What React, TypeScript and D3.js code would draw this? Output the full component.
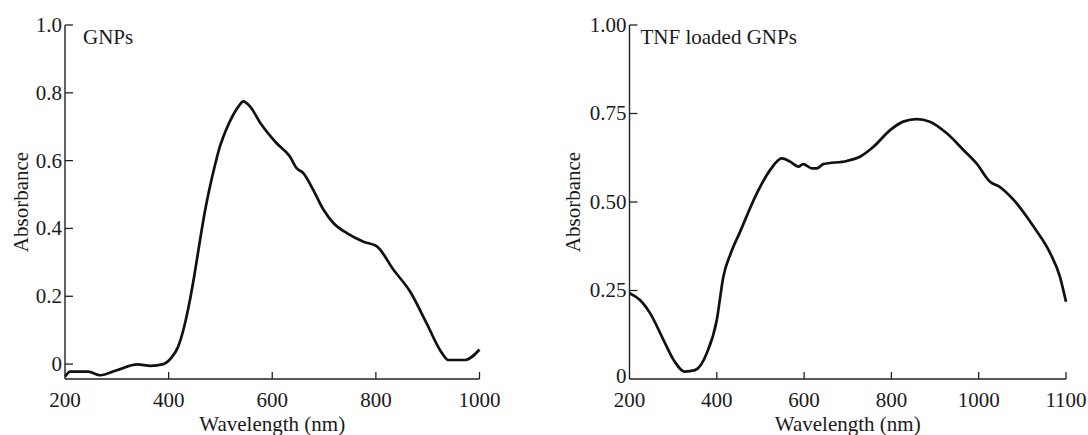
import React from "react";
import * as d3 from "d3";

// ---- Data ----
const gnpWavelength = [200, 210, 245, 268, 300, 340, 365, 390, 405, 418, 430, 440, 450, 460, 470, 480, 490, 499, 505, 515, 525, 535, 544, 557, 577, 608, 634, 647, 660, 679, 699, 718, 744, 776, 802, 834, 866, 898, 924, 940, 972, 1000];
const gnpAbsorbance = [-0.037, -0.022, -0.022, -0.033, -0.018, -0.001, -0.005, 0.0, 0.018, 0.05, 0.11, 0.18, 0.265, 0.36, 0.45, 0.525, 0.59, 0.642, 0.668, 0.705, 0.736, 0.76, 0.775, 0.76, 0.711, 0.652, 0.612, 0.578, 0.563, 0.514, 0.455, 0.416, 0.386, 0.361, 0.347, 0.278, 0.214, 0.12, 0.041, 0.012, 0.012, 0.043];

const tnfWavelength = [200, 224, 247, 278, 301, 327, 350, 377, 400, 415, 432, 453, 492, 522, 549, 568, 587, 598, 618, 629, 644, 698, 728, 759, 797, 827, 858, 888, 927, 965, 995, 1013, 1024, 1040, 1063, 1082, 1093, 1100];
const tnfAbsorbance = [0.242, 0.223, 0.186, 0.11, 0.054, 0.021, 0.025, 0.073, 0.167, 0.289, 0.355, 0.415, 0.525, 0.59, 0.623, 0.614, 0.6, 0.607, 0.595, 0.595, 0.607, 0.616, 0.628, 0.656, 0.703, 0.727, 0.734, 0.727, 0.694, 0.647, 0.609, 0.557, 0.543, 0.506, 0.43, 0.355, 0.289, 0.218];

const leftXTicks = [200, 400, 600, 800, 1000];
const leftYTicks = [0, 0.2, 0.4, 0.6, 0.8, 1.0];
const leftYLabels = ["0", "0.2", "0.4", "0.6", "0.8", "1.0"];
const rightXTicks = [200, 400, 600, 800, 1000, 1100];
const rightYTicks = [0, 0.25, 0.5, 0.75, 1.0];
const rightYLabels = ["0", "0.25", "0.50", "0.75", "1.00"];

const FONT = "'Liberation Serif', 'Times New Roman', serif";
const FS = 21;

type PanelProps = {
  x: d3.ScaleLinear<number, number>;
  y: d3.ScaleLinear<number, number>;
  xs: number[];
  ys: number[];
  xTicks: number[];
  yTicks: number[];
  yLabels: string[];
  title: string;
  titleDx: number;
  yLabelX: number;
};

function Panel({ x, y, xs, ys, xTicks, yTicks, yLabels, title, titleDx, yLabelX }: PanelProps) {
  const [x0, x1] = [x.range()[0], x.range()[x.range().length - 1]];
  const [yb, yt] = y.range();
  const line = d3
    .line<number>()
    .x((_, i) => x(xs[i]))
    .y((d) => y(d))
    .curve(d3.curveMonotoneX);
  const tickLen = 8;
  return (
    <g>
      <path d={line(ys) || ""} fill="none" stroke="#111" strokeWidth={2.7} strokeLinejoin="round" />
      <line x1={x0} x2={x0} y1={yt} y2={yb} stroke="#222" strokeWidth={1.4} />
      <line x1={x0} x2={x1} y1={yb} y2={yb} stroke="#222" strokeWidth={1.4} />
      {yTicks.map((t, i) => {
        const onAxis = Math.abs(y(t) - yb) < 1;
        return (
          <g key={"y" + i}>
            {!onAxis ? (
              <line x1={x0} x2={x0 + tickLen} y1={y(t)} y2={y(t)} stroke="#222" strokeWidth={1.3} />
            ) : null}
            <text
              x={x0 - 3}
              y={onAxis ? y(t) - 3 : y(t)}
              dy="0.33em"
              textAnchor="end"
              fontFamily={FONT}
              fontSize={FS}
              fill="#1a1a1a"
            >
              {yLabels[i]}
            </text>
          </g>
        );
      })}
      {xTicks.map((t, i) => (
        <g key={"x" + i}>
          {i > 0 ? (
            <line x1={x(t)} x2={x(t)} y1={yb} y2={yb - 7} stroke="#222" strokeWidth={1.3} />
          ) : null}
          <text x={x(t)} y={407} textAnchor="middle" fontFamily={FONT} fontSize={FS} fill="#1a1a1a">
            {t}
          </text>
        </g>
      ))}
      <text x={(x0 + x1) / 2} y={431} textAnchor="middle" fontFamily={FONT} fontSize={FS} fill="#1a1a1a">
        Wavelength (nm)
      </text>
      <text
        transform={`translate(${yLabelX},${(yt + yb) / 2}) rotate(-90)`}
        textAnchor="middle"
        fontFamily={FONT}
        fontSize={FS}
        fill="#1a1a1a"
      >
        Absorbance
      </text>
      <text x={x0 + titleDx} y={44} fontFamily={FONT} fontSize={FS} fill="#1a1a1a">
        {title}
      </text>
    </g>
  );
}

export default function App() {
  const xLeft = d3.scaleLinear().domain([200, 1000]).range([65, 479.5]);
  const yLeft = d3.scaleLinear().domain([-0.044, 1.0]).range([379, 25]);
  const xRight = d3.scaleLinear().domain([200, 1000, 1100]).range([629.5, 978.7, 1066]);
  const yRight = d3.scaleLinear().domain([0, 1.0]).range([379, 25]);
  return (
    <svg width={1088} height={435} style={{ position: "absolute", left: 0, top: 0, background: "#fff" }}>
      <rect width={1088} height={435} fill="#fff" />
      <Panel
        x={xLeft}
        y={yLeft}
        xs={gnpWavelength}
        ys={gnpAbsorbance}
        xTicks={leftXTicks}
        yTicks={leftYTicks}
        yLabels={leftYLabels}
        title="GNPs"
        titleDx={18}
        yLabelX={28}
      />
      <Panel
        x={xRight}
        y={yRight}
        xs={tnfWavelength}
        ys={tnfAbsorbance}
        xTicks={rightXTicks}
        yTicks={rightYTicks}
        yLabels={rightYLabels}
        title="TNF loaded GNPs"
        titleDx={11}
        yLabelX={580}
      />
    </svg>
  );
}
